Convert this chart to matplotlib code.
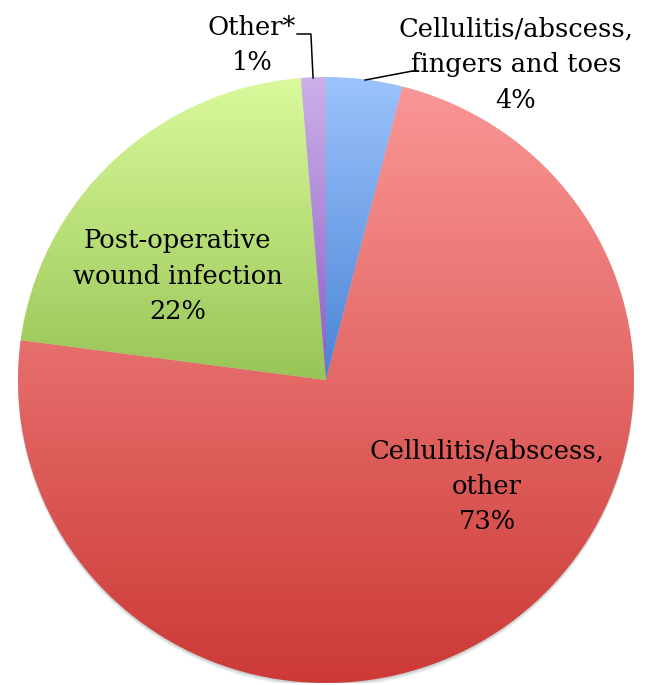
"""
Pie chart of infection types (gradient slices, leader lines)
"""
import numpy as np
import matplotlib
matplotlib.use("Agg")
import matplotlib.pyplot as plt
from matplotlib.colors import LinearSegmentedColormap
from matplotlib.patches import Ellipse

# slices, clockwise from 12 o'clock
labels = ["Cellulitis/abscess,\nfingers and toes\n4%",
          "Cellulitis/abscess,\nother\n73%",
          "Post-operative\nwound infection\n22%",
          "Other*\n1%"]
shares = [4.0, 73.1, 21.6, 1.3]
top_colors = ["#9cc3fb", "#fa9696", "#dafa9c", "#cbb0ea"]
bottom_colors = ["#4a84d6", "#cc3a36", "#98c556", "#8c5ec4"]

W, H = 645, 685
fig = plt.figure(figsize=(W / 100, H / 100), dpi=100)
# pie box in pixels: x 18..634, y 77..683 (from top)
ax = fig.add_axes([18 / W, 2 / H, 616 / W, 606 / H])

wedges, _ = ax.pie(shares, startangle=90, counterclock=False, radius=1,
                   wedgeprops=dict(linewidth=0))

grad = np.linspace(0, 1, 256).reshape(-1, 1)
for w, c0, c1 in zip(wedges, top_colors, bottom_colors):
    ext = w.get_path().get_extents()
    cmap = LinearSegmentedColormap.from_list("g", [c0, c1])
    im = ax.imshow(grad, cmap=cmap, origin="upper", aspect="auto",
                   extent=(ext.x0, ext.x1, ext.y0, ext.y1), zorder=2)
    im.set_clip_path(w)
    w.set_facecolor("none")

# soft shadow under the pie
for k, a in zip([0.014, 0.009, 0.005], [0.12, 0.15, 0.2]):
    ax.add_patch(Ellipse((0, -k), 2.0, 2.0, color="#7f8c8c", alpha=a,
                         lw=0, zorder=0))

ax.set_aspect("auto")
ax.set_xlim(-1, 1)
ax.set_ylim(-1, 1)
ax.axis("off")

font = dict(family="DejaVu Serif", fontsize=18.5, ha="center", va="center",
            linespacing=1.52, color="black", clip_on=False)
ax.text(-0.240, 1.105, labels[3], **font)
ax.text(0.617, 1.040, labels[0], **font)
ax.text(-0.481, 0.343, labels[2], zorder=5, **font)
ax.text(0.523, -0.350, labels[1], zorder=5, **font)

# leader lines
ax.plot([-0.094, -0.049, -0.042], [1.142, 1.142, 0.997], color="black",
        lw=1.1, clip_on=False)
ax.plot([0.127, 0.282, 0.299], [0.990, 1.020, 1.020], color="black",
        lw=1.1, clip_on=False)

fig.savefig("out.png", dpi=100)
